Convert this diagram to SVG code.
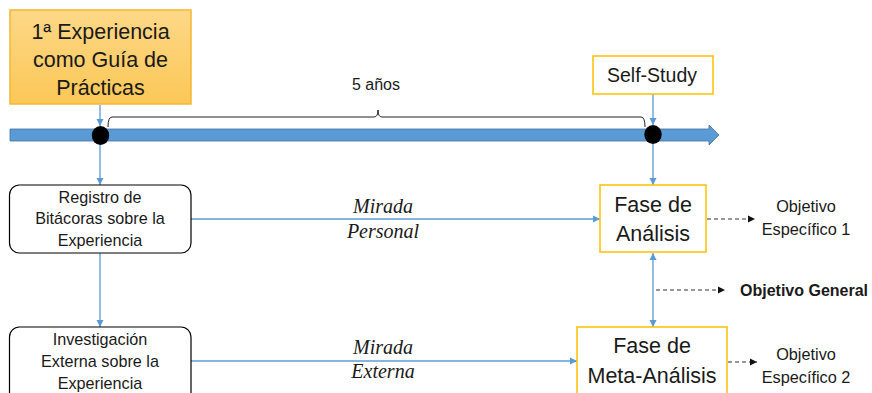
<svg xmlns="http://www.w3.org/2000/svg" width="872" height="393" viewBox="0 0 872 393">
<style>
text{font-family:"Liberation Sans",Arial,sans-serif;fill:#1a1a1a}
.c{text-anchor:middle}
.it{font-family:"Liberation Serif","Times New Roman",serif;font-style:italic;font-size:20px}
.blue{stroke:#5b9bd5;stroke-width:1.3;fill:none}
.dash{stroke:#333;stroke-width:1.2;stroke-dasharray:4,3;fill:none}
.ybox{fill:#fff;stroke:#ffc000;stroke-width:1.5}
.rbox{fill:#fff;stroke:#000;stroke-width:1.2}
.bt{font-size:16.2px}
.ft{font-size:21.5px}
.ob{font-size:16.3px}
</style>
<defs>
<linearGradient id="g" x1="0" y1="0" x2="0" y2="1">
<stop offset="0" stop-color="#fed888"/>
<stop offset="1" stop-color="#fbc756"/>
</linearGradient>
<marker id="ab" markerWidth="8" markerHeight="8" refX="7" refY="4" orient="auto" markerUnits="userSpaceOnUse">
<path d="M0,0.5 L7,4 L0,7.5 Z" fill="#5b9bd5"/>
</marker>
<marker id="abs" markerWidth="8" markerHeight="8" refX="7" refY="4" orient="auto-start-reverse" markerUnits="userSpaceOnUse">
<path d="M0,0.5 L7,4 L0,7.5 Z" fill="#5b9bd5"/>
</marker>
<marker id="ak" markerWidth="8" markerHeight="8" refX="7" refY="4" orient="auto" markerUnits="userSpaceOnUse">
<path d="M0,0.5 L7,4 L0,7.5 Z" fill="#111"/>
</marker>
</defs>

<g id="timeline">
<path d="M10,129 L709,129 L709,125 L719,135 L709,145 L709,141 L10,141 Z" fill="#5b9bd5" stroke="#41719c" stroke-width="0.8"/>
</g>

<g id="connectors">
<line class="blue" x1="100" y1="105" x2="100" y2="126" marker-end="url(#ab)"/>
<line class="blue" x1="653" y1="94" x2="653" y2="125" marker-end="url(#ab)"/>
<line class="blue" x1="100" y1="144" x2="100" y2="185" marker-end="url(#ab)"/>
<line class="blue" x1="653" y1="144" x2="653" y2="185" marker-end="url(#ab)"/>
<line class="blue" x1="100" y1="253" x2="100" y2="327" marker-end="url(#ab)"/>
<line class="blue" x1="191" y1="219" x2="600" y2="219" marker-end="url(#ab)"/>
<line class="blue" x1="191" y1="361" x2="577" y2="361" marker-end="url(#ab)"/>
<line class="blue" x1="653" y1="253" x2="653" y2="327" marker-start="url(#abs)" marker-end="url(#ab)"/>
<line class="dash" x1="707" y1="219" x2="755" y2="219" marker-end="url(#ak)"/>
<line class="dash" x1="656" y1="290" x2="725" y2="290" marker-end="url(#ak)"/>
<line class="dash" x1="728" y1="362" x2="757" y2="362" marker-end="url(#ak)"/>
<path d="M108,127 Q108,117 112,117 L374,117 Q378,117 378,110 Q378,117 382,117 L641,117 Q645,117 645,127" fill="none" stroke="#222" stroke-width="1"/>
<text class="c" x="376" y="90" font-size="16">5 años</text>
<text class="it c" x="383" y="213">Mirada</text>
<text class="it c" x="383" y="238">Personal</text>
<text class="it c" x="383" y="354">Mirada</text>
<text class="it c" x="383" y="378">Externa</text>
</g>

<g id="dot1"><ellipse cx="100.5" cy="135.5" rx="8.7" ry="9.5" fill="#000"/></g>
<g id="dot2"><ellipse cx="653" cy="134.5" rx="8.7" ry="9.5" fill="#000"/></g>

<g id="experiencia">
<rect x="10" y="10" width="181" height="94" fill="url(#g)" stroke="#f5b731" stroke-width="1.5"/>
<text class="c" x="100.5" y="39" font-size="21.5">1ª Experiencia</text>
<text class="c" x="100.5" y="67" font-size="21.5">como Guía de</text>
<text class="c" x="100.5" y="95" font-size="21.5">Prácticas</text>
</g>

<g id="selfstudy">
<rect class="ybox" x="593" y="56" width="120" height="38"/>
<text class="c" x="652" y="82" font-size="19.5">Self-Study</text>
</g>

<g id="registro">
<rect class="rbox" x="9.5" y="185" width="181.5" height="68" rx="10"/>
<text class="c bt" x="100" y="203">Registro de</text>
<text class="c bt" x="100" y="224">Bitácoras sobre la</text>
<text class="c bt" x="100" y="246">Experiencia</text>
</g>

<g id="investigacion">
<rect class="rbox" x="9.5" y="327" width="181.5" height="80" rx="10"/>
<text class="c bt" x="100" y="345">Investigación</text>
<text class="c bt" x="100" y="367">Externa sobre la</text>
<text class="c bt" x="100" y="389">Experiencia</text>
</g>

<g id="analisis">
<rect class="ybox" x="600" y="185" width="106" height="67"/>
<text class="c ft" x="653" y="212">Fase de</text>
<text class="c ft" x="653" y="241">Análisis</text>
</g>

<g id="meta">
<rect class="ybox" x="577" y="327" width="150" height="80"/>
<text class="c ft" x="652" y="353">Fase de</text>
<text class="c ft" x="652" y="383">Meta-Análisis</text>
</g>

<g id="obj1">
<text class="c ob" x="806" y="212">Objetivo</text>
<text class="c ob" x="806" y="235">Específico 1</text>
</g>
<g id="objgen">
<text x="740" y="296" font-size="16" font-weight="bold">Objetivo General</text>
</g>
<g id="obj2">
<text class="c ob" x="806" y="360">Objetivo</text>
<text class="c ob" x="806" y="383">Específico 2</text>
</g>
</svg>
